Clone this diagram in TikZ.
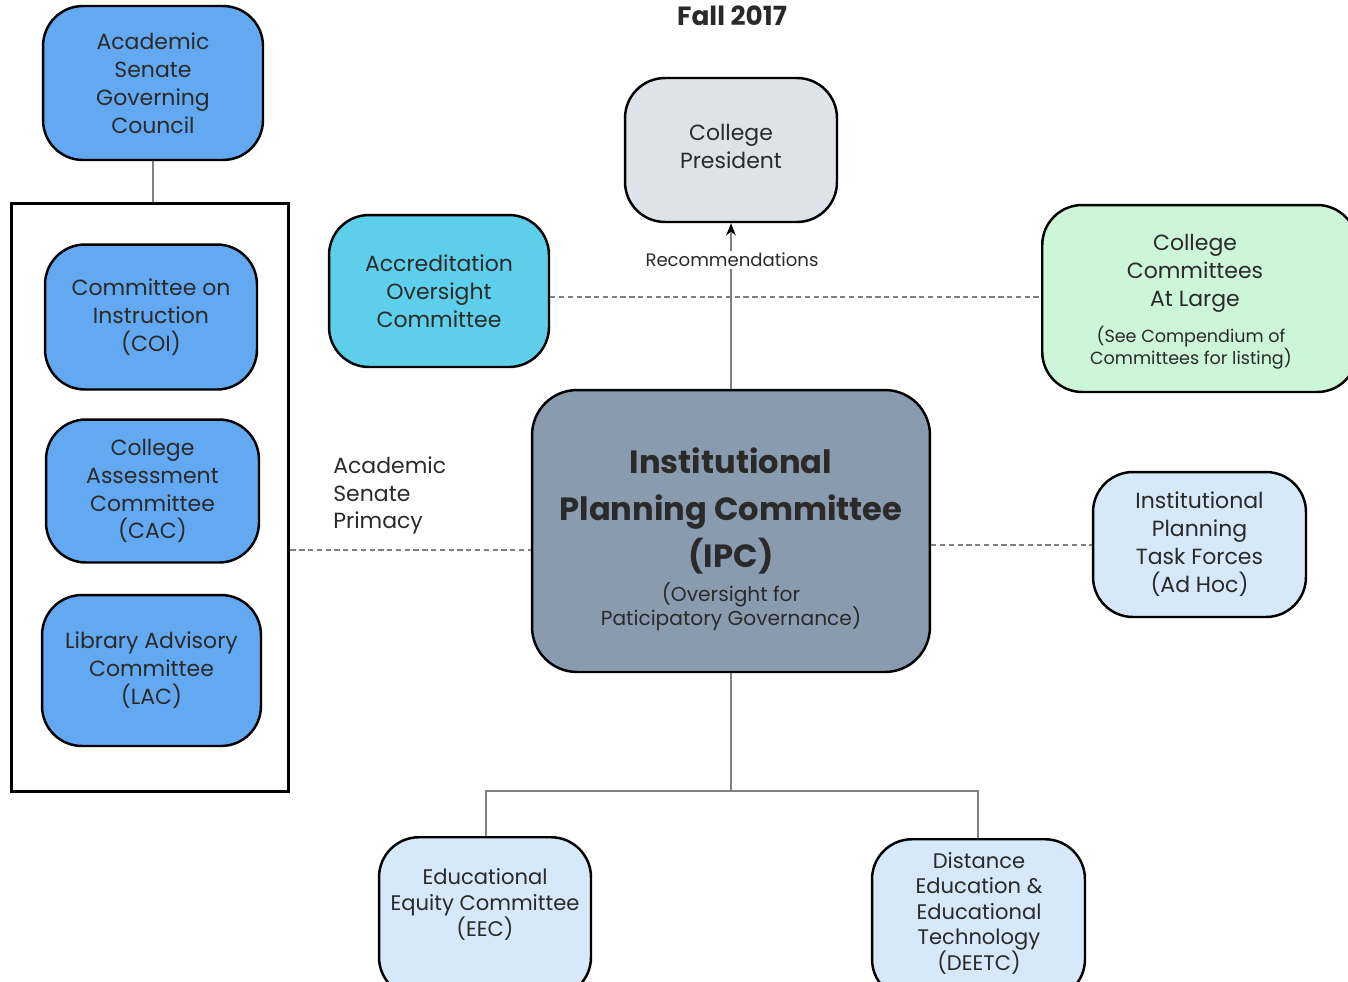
\documentclass[tikz,border=0pt]{standalone}
\usepackage{fontspec}
\setmainfont{Poppins}
\usetikzlibrary{arrows.meta}
\definecolor{cblue}{HTML}{63A9F1}
\definecolor{ccyan}{HTML}{5DCFEA}
\definecolor{cgray}{HTML}{DDE3E9}
\definecolor{cgreen}{HTML}{CDF5D8}
\definecolor{cipc}{HTML}{8A9BB0}
\definecolor{clight}{HTML}{D6E8FA}
\definecolor{cline}{HTML}{808080}
\definecolor{ctext}{HTML}{2A2A2A}
\tikzset{
  box/.style={draw=black, line width=1.4pt, rounded corners=0.8cm, align=center, inner sep=0pt,
    text=ctext, font=\fontsize{12.5pt}{15.9pt}\selectfont},
  conn/.style={draw=cline, line width=0.7pt},
  dconn/.style={draw=cline, line width=0.7pt, dash pattern=on 3pt off 2pt},
}
\begin{document}
\begin{tikzpicture}[x=0.02cm, y=-0.02cm]
\useasboundingbox (0,0) rectangle (1348,981);
\node[font=\bfseries\fontsize{15pt}{18pt}\selectfont, text=ctext] (title) at (732,16) {Fall 2017};

\node[box, fill=cblue, minimum width=4.4cm, minimum height=3.08cm] (asgc) at (153,83)
  {Academic\\Senate\\Governing\\Council};
\node[draw=black, line width=1.7pt, minimum width=5.56cm, minimum height=11.78cm, inner sep=0pt] (frame) at (150,497.5) {};
\node[box, fill=cblue, minimum width=4.24cm, minimum height=2.9cm] (coi) at (151,317)
  {Committee on\\Instruction\\(COI)};
\node[box, fill=cblue, minimum width=4.26cm, minimum height=2.86cm] (cac) at (152.5,491)
  {College\\Assessment\\Committee\\(CAC)};
\node[box, fill=cblue, minimum width=4.38cm, minimum height=3.02cm] (lac) at (151.5,670.5)
  {Library Advisory\\Committee\\(LAC)};

\node[box, fill=ccyan, minimum width=4.4cm, minimum height=3.04cm] (aoc) at (439,291)
  {Accreditation\\Oversight\\Committee};
\node[box, fill=cgray, minimum width=4.24cm, minimum height=2.88cm] (cp) at (731,150) {};
\node[align=center, text=ctext, font=\fontsize{12.5pt}{15.9pt}\selectfont] (cpt) at (731,146)
  {College\\President};
\node[box, fill=cgreen, minimum width=6.3cm, minimum height=3.74cm, anchor=west] (ccal) at (1041,298.5)
  {};
\node[align=center, text=ctext, font=\fontsize{12.5pt}{15.9pt}\selectfont, anchor=north] (ccalt) at (1195,228)
  {College\\Committees\\At Large};
\node[align=center, text=ctext, font=\fontsize{10pt}{12.5pt}\selectfont, anchor=north] (ccals) at (1191,320)
  {(See Compendium of\\Committees for listing)};

\node[box, fill=cipc, rounded corners=0.9cm, minimum width=7.96cm, minimum height=5.64cm] (ipc) at (731,531) {};
\node[align=center, text=ctext, font=\bfseries\fontsize{18.3pt}{26.6pt}\selectfont, anchor=north] (ipct) at (731,442)
  {Institutional\\Planning Committee\\(IPC)};
\node[align=center, text=ctext, font=\fontsize{11.5pt}{14pt}\selectfont, anchor=north] (ipcs) at (731,576)
  {(Oversight for\\Paticipatory Governance)};

\node[box, fill=clight, minimum width=4.26cm, minimum height=2.9cm] (iptf) at (1199.5,544.5)
  {Institutional\\Planning\\Task Forces\\(Ad Hoc)};
\node[box, fill=clight, minimum width=4.24cm, minimum height=3.2cm, anchor=north] (eec) at (485,836) {};
\node[align=center, text=ctext, font=\fontsize{12pt}{14.8pt}\selectfont] (eect) at (485,904)
  {Educational\\Equity Committee\\(EEC)};
\node[box, fill=clight, minimum width=4.26cm, minimum height=3.2cm, anchor=north] (deetc) at (978.5,838) {};
\node[align=center, text=ctext, font=\fontsize{12pt}{14.5pt}\selectfont] (deetct) at (979,913)
  {Distance\\Education \&\\Educational\\Technology\\(DEETC)};

\node[align=left, text=ctext, font=\fontsize{12.5pt}{15.9pt}\selectfont, anchor=north west, inner sep=0pt] (asp) at (333,456)
  {Academic\\Senate\\Primacy};

% connectors
\draw[conn] (asgc.south) -- (asgc.south |- frame.north);
\coordinate (dl) at (aoc.east |- 0,297);
\coordinate (dr) at (ccal.west |- 0,297);
\draw[dconn] (dl) -- (dr);
\draw[conn, -{Stealth[length=7pt,width=5.5pt,color=black]}] (ipc.north) -- (cp.south);
\node[fill=white, inner sep=1pt, text=ctext, font=\fontsize{10.3pt}{12pt}\selectfont] (rec) at (732,260) {Recommendations};
\coordinate (fl) at (frame.east |- 0,550);
\coordinate (ipl) at (ipc.west |- 0,550);
\draw[dconn] (fl) -- (ipl);
\coordinate (ipr) at (ipc.east |- 0,545);
\coordinate (tfl) at (iptf.west |- 0,545);
\draw[dconn] (ipr) -- (tfl);
\coordinate (jn) at (731,791);
\draw[conn] (ipc.south) -- (jn);
\draw[conn] (eec.north -| 486,0) |- (jn) -| (deetc.north -| 978,0);
\end{tikzpicture}
\end{document}
